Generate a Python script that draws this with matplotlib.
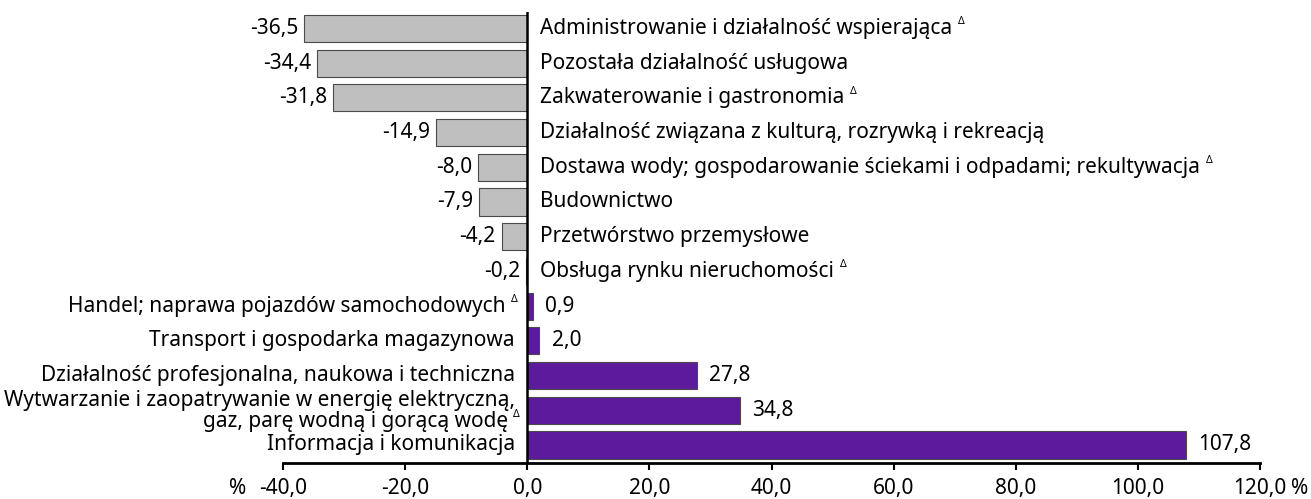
import matplotlib.pyplot as plt
import numpy as np

plt.rcParams['font.family'] = ['Noto Sans', 'DejaVu Sans']

# Data
categories = [
    "Administrowanie i działalność wspierająca",
    "Pozostała działalność usługowa",
    "Zakwaterowanie i gastronomia",
    "Działalność związana z kulturą, rozrywką i rekreacją",
    "Dostawa wody; gospodarowanie ściekami i odpadami; rekultywacja",
    "Budownictwo",
    "Przetwórstwo przemysłowe",
    "Obsługa rynku nieruchomości",
    "Handel; naprawa pojazdów samochodowych",
    "Transport i gospodarka magazynowa",
    "Działalność profesjonalna, naukowa i techniczna",
    "Wytwarzanie i zaopatrywanie w energię elektryczną,\ngaz, parę wodną i gorącą wodę",
    "Informacja i komunikacja",
]
values = [-36.5, -34.4, -31.8, -14.9, -8.0, -7.9, -4.2, -0.2, 0.9, 2.0, 27.8, 34.8, 107.8]
marked = [True, False, True, False, True, False, False, True, True, False, False, True, False]
xticks = [-40, -20, 0, 20, 40, 60, 80, 100, 120]

fs = 15
fig = plt.figure(figsize=(13.11, 4.99), dpi=100)
ax = fig.add_axes([0.2159, 0.0721, 0.7452, 0.904])

y = np.arange(len(values))
colors = ['#bfbfbf' if v < 0 else '#5c1a9c' for v in values]
ax.barh(y, values, height=0.78, color=colors, edgecolor='#4a4a4a', linewidth=0.8)
ax.axvline(0, color='black', linewidth=1.8, zorder=3)


def delta(t):
    # small delta mark after a label
    ax.annotate("Δ", xy=(1, 0.82), xycoords=t, xytext=(4, 0), textcoords='offset points',
                ha='left', va='center', fontsize=7.5)


for i, (cat, v, m) in enumerate(zip(categories, values, marked)):
    vtxt = f"{v:.1f}".replace('.', ',')
    if v < 0:
        ax.text(v - 1.0, i, vtxt, ha='right', va='center', fontsize=fs)
        t = ax.text(2.1, i, cat, ha='left', va='center', fontsize=fs)
    else:
        ax.text(v + 2.0, i, vtxt, ha='left', va='center', fontsize=fs)
        lines = cat.split("\n")
        if len(lines) == 2:
            ax.text(-2.0, i - 0.27, lines[0], ha='right', va='center', fontsize=fs)
            t = ax.text(-3.2, i + 0.33, lines[1], ha='right', va='center', fontsize=fs)
        else:
            t = ax.text(-2.0 - (1.6 if m else 0), i, cat, ha='right', va='center', fontsize=fs)
    if m:
        delta(t)

ax.set_xlim(-40, 120)
ax.set_ylim(12.52, -0.475)
ax.set_yticks([])
ax.set_xticks(xticks)
ax.set_xticklabels([f"{t:.1f}".replace('.', ',') for t in xticks], fontsize=fs)
ax.tick_params(axis='x', direction='out', length=5, width=1.5, pad=6)
for s in ['top', 'right', 'left']:
    ax.spines[s].set_visible(False)
ax.spines['bottom'].set_linewidth(2)

trans = ax.get_xaxis_transform()
for xp in [-47.5, 126.5]:
    ax.annotate("%", xy=(xp, 0), xycoords=trans, xytext=(0, -11), textcoords='offset points',
                ha='center', va='top', fontsize=fs, annotation_clip=False)

fig.savefig('out.png', dpi=100)
